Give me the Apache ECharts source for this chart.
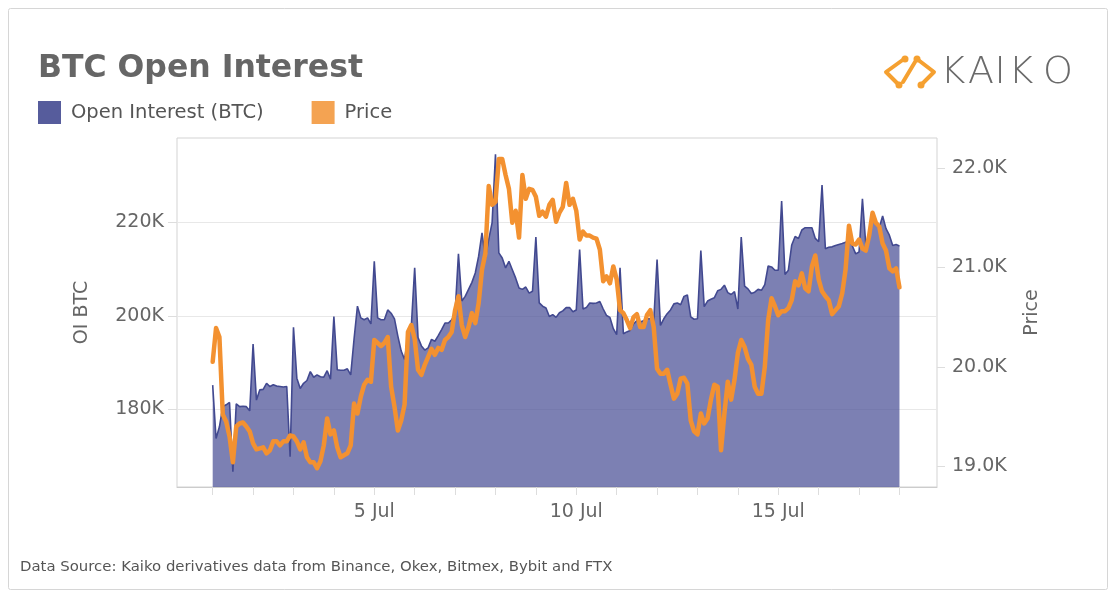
<!DOCTYPE html>
<html>
<head>
<meta charset="utf-8">
<script src="https://cdn.jsdelivr.net/npm/echarts@6/dist/echarts.min.js"></script>
<style>
html,body{margin:0;padding:0;background:#fff;}
#chart{width:1116px;height:599px;}
</style>
</head>
<body>
<div id="chart"></div>
<script>
// ---- Data (2-hourly, starting 1 Jul 2022 00:00 UTC) ----
const startTime = Date.UTC(2022, 6, 1, 0, 0);
const stepHours = 2;

// Open interest, thousands of BTC
const openInterestK = [
185.2,173.8,176.3,180.6,181.0,181.5,166.7,181.2,180.6,180.7,180.6,179.7,
194.0,182.0,184.2,184.3,185.6,184.9,185.3,185.0,184.9,184.8,184.9,169.9,
197.6,186.7,184.5,185.6,186.2,188.1,186.9,187.4,187.0,186.9,188.3,186.5,
199.9,188.5,188.4,188.4,188.7,187.4,195.1,202.1,199.6,199.2,199.6,198.3,
211.7,199.6,199.2,199.2,201.3,200.6,199.4,195.7,192.5,190.7,195.7,197.8,
210.3,195.4,193.6,192.7,193.2,195.0,194.6,195.8,197.1,198.5,198.5,199.2,
200.6,213.3,203.2,204.2,205.7,207.2,209.2,212.8,217.8,212.4,216.4,220.0,
234.6,213.5,212.4,210.3,211.7,209.9,208.1,206.0,205.7,206.2,204.9,205.3,
216.9,202.8,202.1,201.7,199.9,200.3,199.7,200.7,201.1,201.8,201.8,200.9,
201.3,214.2,201.5,201.8,202.8,202.7,202.8,203.1,201.5,200.1,199.7,197.3,
196.0,210.3,196.2,196.6,196.9,198.3,199.0,198.7,199.0,199.4,199.4,198.7,
212.1,198.0,199.4,200.5,201.3,202.6,202.8,202.4,204.2,204.5,199.8,199.3,
199.4,214.0,202.0,203.2,203.6,203.9,205.4,205.7,206.6,205.0,204.6,205.2,
201.5,216.9,206.4,205.8,204.8,205.1,205.7,205.5,206.7,210.7,210.5,209.8,
209.8,224.6,208.9,209.8,215.2,217.0,216.6,218.4,218.9,218.9,218.9,216.6,
215.9,228.0,214.4,214.7,214.8,215.1,215.3,215.5,215.8,216.2,215.0,213.3,
213.7,225.1,215.3,216.7,220.9,219.6,218.9,221.4,218.7,217.3,215.1,215.3,
215.0
];

// BTC price, thousands of USD
const priceK = [
20.05,20.39,20.30,19.52,19.45,19.30,19.04,19.40,19.43,19.44,19.40,19.35,
19.23,19.17,19.18,19.19,19.13,19.16,19.25,19.25,19.21,19.25,19.25,19.31,
19.30,19.25,19.17,19.24,19.09,19.04,19.04,18.98,19.05,19.21,19.48,19.32,
19.36,19.19,19.09,19.11,19.13,19.21,19.63,19.53,19.70,19.82,19.87,19.85,
20.27,20.24,20.21,20.24,20.30,19.80,19.60,19.36,19.46,19.62,20.35,20.42,
20.28,19.97,19.92,20.02,20.10,20.18,20.12,20.19,20.17,20.27,20.30,20.35,
20.57,20.71,20.42,20.30,20.40,20.54,20.44,20.64,20.98,21.14,21.82,21.63,
21.66,22.09,22.09,21.93,21.79,21.45,21.57,21.30,21.93,21.69,21.79,21.78,
21.71,21.52,21.56,21.51,21.63,21.68,21.46,21.55,21.61,21.85,21.63,21.69,
21.57,21.28,21.36,21.32,21.32,21.30,21.29,21.18,20.86,20.91,20.84,21.01,
20.88,20.57,20.54,20.47,20.39,20.50,20.53,20.40,20.40,20.52,20.57,20.40,
19.98,19.93,19.93,19.97,19.82,19.68,19.73,19.88,19.89,19.83,19.46,19.35,
19.32,19.53,19.43,19.48,19.67,19.82,19.80,19.16,19.53,19.85,19.67,19.87,
20.14,20.27,20.20,20.08,20.02,19.80,19.73,19.73,20.00,20.47,20.69,20.61,
20.52,20.56,20.56,20.59,20.67,20.86,20.82,20.94,20.79,20.76,21.01,21.12,
20.88,20.76,20.71,20.67,20.53,20.57,20.61,20.74,20.98,21.42,21.24,21.23,
21.28,21.19,21.17,21.32,21.55,21.45,21.41,21.24,21.17,20.99,20.96,20.99,
20.80
];

// Tick labels
const xLabelDays = [5, 10, 15];           // "5 Jul", "10 Jul", "15 Jul"
const xTickDays = [1,2,3,4,5,6,7,8,9,10,11,12,13,14,15,16,17,18];
const oiTicks = [180000, 200000, 220000];
const priceTicks = [19000, 20000, 21000, 22000];

// ---- Build series from arrays ----
const H = 3600 * 1000;
const oiData = openInterestK.map((v, i) => [startTime + i * stepHours * H, v * 1000]);
const priceData = priceK.map((v, i) => [startTime + i * stepHours * H, v * 1000]);
const dayTs = d => Date.UTC(2022, 6, d);

const FONT = '"DejaVu Sans", "Lucida Grande", sans-serif';
const chart = echarts.init(document.getElementById('chart'), null, {renderer: 'canvas'});

const option = {
  animation: false,
  backgroundColor: '#fff',
  textStyle: {fontFamily: FONT},
  grid: {left: 177, top: 138, width: 760, height: 349, containLabel: false,
         show: true, borderColor: '#d3d3d3', borderWidth: 1, backgroundColor: 'transparent'},
  legend: {
    left: 38, top: 101, padding: 0, itemWidth: 23, itemHeight: 23, itemGap: 48,
    icon: 'rect',
    textStyle: {fontSize: 19.5, color: '#555', fontFamily: FONT, padding: [0, 0, 0, 5]},
    data: [
      {name: 'Open Interest (BTC)', itemStyle: {color: '#565c9c', borderWidth: 0}},
      {name: 'Price', itemStyle: {color: '#f4a352', borderWidth: 0}}
    ]
  },
  xAxis: {
    type: 'value',
    min: startTime - 21.2 * H,
    max: startTime + (17 * 24 + 22.3) * H,
    axisLine: {show: true, lineStyle: {color: '#ccc', width: 1}},
    axisTick: {show: true, length: 8, lineStyle: {color: '#ddd'},
               customValues: xTickDays.map(dayTs)},
    axisLabel: {
      customValues: xLabelDays.map(dayTs),
      fontSize: 19, color: '#666', margin: 16, fontFamily: FONT,
      formatter: v => new Date(v).getUTCDate() + ' Jul'
    },
    splitLine: {show: false}
  },
  yAxis: [
    {
      type: 'value', position: 'left',
      min: 163410, max: 238090,
      name: 'OI BTC', nameLocation: 'middle', nameRotate: 90, nameGap: 85,
      nameTextStyle: {fontSize: 19, color: '#666', fontFamily: FONT},
      axisLine: {show: false},
      axisTick: {show: true, length: 9, lineStyle: {color: '#ddd'}, customValues: oiTicks},
      axisLabel: {customValues: oiTicks, fontSize: 19, color: '#666', margin: 13, fontFamily: FONT,
                  formatter: v => Math.round(v / 1000) + 'K'},
      splitLine: {show: true, lineStyle: {color: '#e8e8e8', width: 1}}
    },
    {
      type: 'value', position: 'right',
      min: 18791, max: 22302,
      name: 'Price', nameLocation: 'middle', nameRotate: 90, nameGap: 86,
      nameTextStyle: {fontSize: 19, color: '#666', fontFamily: FONT},
      axisLine: {show: false},
      axisTick: {show: true, length: 8, lineStyle: {color: '#ddd'}, customValues: priceTicks},
      axisLabel: {customValues: priceTicks, fontSize: 19, color: '#666', margin: 15, fontFamily: FONT,
                  formatter: v => (v / 1000).toFixed(1) + 'K'},
      splitLine: {show: false}
    }
  ],
  series: [
    {
      name: 'Open Interest (BTC)', type: 'line', yAxisIndex: 0, data: oiData,
      showSymbol: false, symbol: 'none', z: 2,
      lineStyle: {color: '#424990', width: 1.6},
      itemStyle: {color: '#565c9c'},
      areaStyle: {color: '#4e5498', opacity: 0.74, origin: 'start'}
    },
    {
      name: 'Price', type: 'line', yAxisIndex: 1, data: priceData,
      showSymbol: false, symbol: 'none', z: 3,
      lineStyle: {color: '#f39130', width: 4.5, join: 'round', cap: 'round'},
      itemStyle: {color: '#f4a352'}
    }
  ],
  graphic: [
    {type: 'rect', silent: true, z: -10,
     shape: {x: 8.5, y: 8.5, width: 1099, height: 581, r: 2},
     style: {fill: 'none', stroke: '#d6d6d6', lineWidth: 1}},
    {type: 'text', x: 38, y: 69, silent: true,
     style: {text: 'BTC Open Interest', font: 'bold 31.5px ' + FONT, fill: '#666', verticalAlign: 'middle'}},
    {type: 'text', x: 20, y: 567, silent: true,
     style: {text: 'Data Source: Kaiko derivatives data from Binance, Okex, Bitmex, Bybit and FTX',
             font: '14.9px ' + FONT, fill: '#555', verticalAlign: 'middle'}},
    // Kaiko logo mark
    {type: 'polyline', silent: true, shape: {points: [[904, 59], [886, 72], [899, 85]]},
     style: {stroke: '#f5a030', lineWidth: 4, fill: 'none', lineJoin: 'round', lineCap: 'round'}},
    {type: 'polyline', silent: true, shape: {points: [[917, 59], [934, 72], [921, 85]]},
     style: {stroke: '#f5a030', lineWidth: 4, fill: 'none', lineJoin: 'round', lineCap: 'round'}},
    {type: 'line', silent: true, shape: {x1: 915, y1: 62, x2: 903, y2: 82},
     style: {stroke: '#f5a030', lineWidth: 4, lineCap: 'round'}},
    {type: 'circle', silent: true, shape: {cx: 905, cy: 59, r: 3.5}, style: {fill: '#f5a030'}},
    {type: 'circle', silent: true, shape: {cx: 917, cy: 59, r: 3.5}, style: {fill: '#f5a030'}},
    {type: 'circle', silent: true, shape: {cx: 899, cy: 85, r: 3.5}, style: {fill: '#f5a030'}},
    {type: 'circle', silent: true, shape: {cx: 921, cy: 85, r: 3.5}, style: {fill: '#f5a030'}},
    // KAIKO wordmark, letter by letter for spacing
    {type: 'text', x: 953, y: 73, silent: true, style: {text: 'K', font: '200 38px ' + FONT, fill: '#6a6a6a', align: 'center', verticalAlign: 'middle'}},
    {type: 'text', x: 981, y: 73, silent: true, style: {text: 'A', font: '200 38px ' + FONT, fill: '#6a6a6a', align: 'center', verticalAlign: 'middle'}},
    {type: 'text', x: 1000, y: 73, silent: true, style: {text: 'I', font: '200 38px ' + FONT, fill: '#6a6a6a', align: 'center', verticalAlign: 'middle'}},
    {type: 'text', x: 1021, y: 73, silent: true, style: {text: 'K', font: '200 38px ' + FONT, fill: '#6a6a6a', align: 'center', verticalAlign: 'middle'}},
    {type: 'text', x: 1058, y: 73, silent: true, style: {text: 'O', font: '200 38px ' + FONT, fill: '#6a6a6a', align: 'center', verticalAlign: 'middle'}}
  ]
};
chart.setOption(option);
</script>
</body>
</html>
